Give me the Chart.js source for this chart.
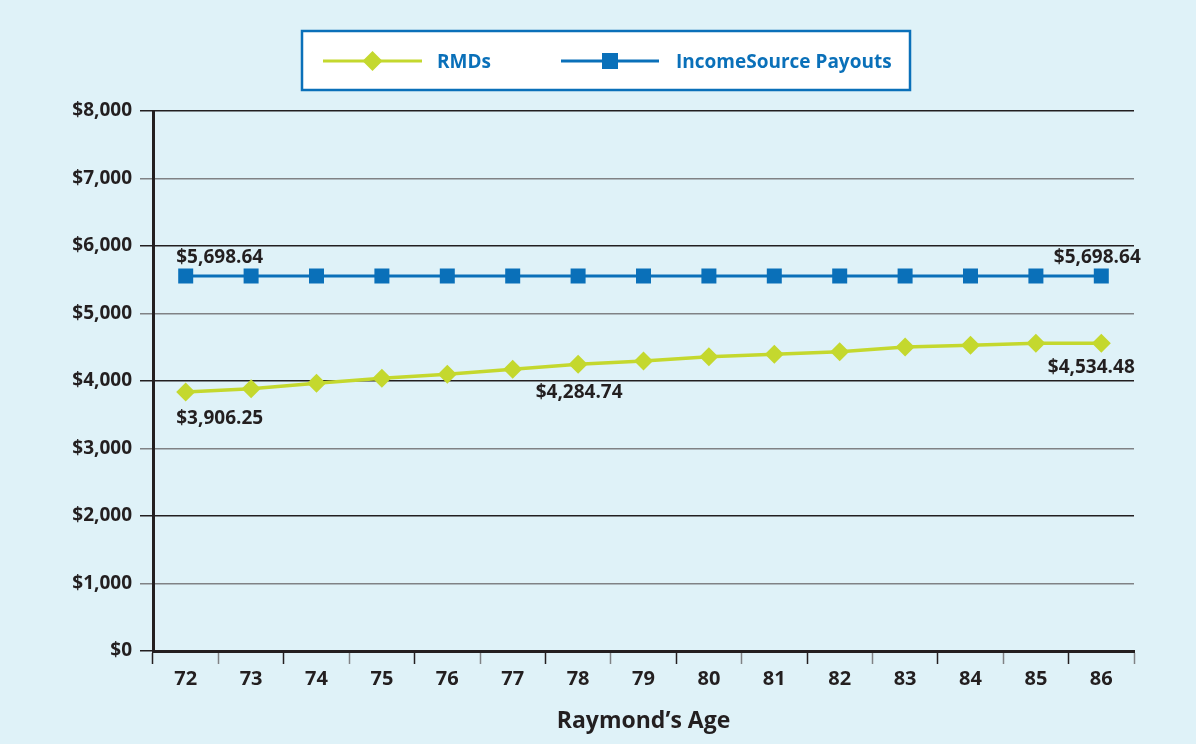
<!DOCTYPE html>
<html>
<head>
<meta charset="utf-8">
<title>RMDs vs IncomeSource Payouts</title>
<script src="https://cdn.jsdelivr.net/npm/chart.js@4.4.1/dist/chart.umd.min.js"></script>
<style>
  html, body { margin: 0; padding: 0; background: #dff2f8; }
  #wrap { width: 1196px; height: 744px; }
</style>
</head>
<body>
<div id="wrap"><canvas id="chart" width="1196" height="744"></canvas></div>
<script>
// ages on the x axis
const ages = ['72', '73', '74', '75', '76', '77', '78', '79', '80', '81', '82', '83', '84', '85', '86'];

// values as plotted in the picture
const rmdValues = [3837, 3886, 3966, 4040, 4099, 4173, 4247, 4296, 4360, 4395, 4434, 4504, 4529, 4558, 4558];
const payoutValues = [5556, 5556, 5556, 5556, 5556, 5556, 5556, 5556, 5556, 5556, 5556, 5556, 5556, 5556, 5556];

// printed value labels (null = no label)
const rmdLabels = ['$3,906.25', null, null, null, null, null, '$4,284.74', null, null, null, null, null, null, null, '$4,534.48'];
const payoutLabels = ['$5,698.64', null, null, null, null, null, null, null, null, null, null, null, null, null, '$5,698.64'];

const yTicks = [0, 1000, 2000, 3000, 4000, 5000, 6000, 7000, 8000];

const DARK = '#231f20';
const GRAY = '#808285';
const GREEN = '#c4d82e';
const BLUE = '#0a70b9';
const FONT = "'Open Sans', 'Noto Sans', sans-serif";

// draws the boxed legend at the top
const boxLegend = {
    id: 'boxLegend',
    afterDraw(chart) {
        const ctx = chart.ctx;
        ctx.save();
        ctx.fillStyle = '#ffffff';
        ctx.fillRect(302, 31, 608, 59);
        ctx.strokeStyle = BLUE;
        ctx.lineWidth = 2.5;
        ctx.strokeRect(302, 31, 608, 59);

        const items = [
            { ds: chart.data.datasets[0], x1: 323, x2: 422, tx: 437 },
            { ds: chart.data.datasets[1], x1: 561, x2: 659, tx: 676 }
        ];
        const y = 61;
        items.forEach(it => {
            ctx.strokeStyle = it.ds.borderColor;
            ctx.lineWidth = 3;
            ctx.beginPath();
            ctx.moveTo(it.x1, y);
            ctx.lineTo(it.x2, y);
            ctx.stroke();
            const cx = (it.x1 + it.x2) / 2;
            ctx.fillStyle = it.ds.pointBackgroundColor;
            ctx.beginPath();
            if (it.ds.pointStyle === 'rectRot') {
                ctx.moveTo(cx, y - 10);
                ctx.lineTo(cx + 10, y);
                ctx.lineTo(cx, y + 10);
                ctx.lineTo(cx - 10, y);
                ctx.closePath();
            } else {
                ctx.rect(cx - 8, y - 8, 16, 16);
            }
            ctx.fill();
            ctx.fillStyle = BLUE;
            ctx.font = 'bold 19px ' + FONT;
            ctx.textAlign = 'left';
            ctx.textBaseline = 'alphabetic';
            ctx.fillText(it.ds.label, it.tx, y + 7);
        });
        ctx.restore();
    }
};

// value labels next to some points
const valueLabels = {
    id: 'valueLabels',
    afterDatasetsDraw(chart, args, opts) {
        const ctx = chart.ctx;
        ctx.save();
        ctx.font = 'bold 19px ' + FONT;
        ctx.fillStyle = DARK;
        ctx.textAlign = 'center';
        ctx.textBaseline = 'alphabetic';
        chart.data.datasets.forEach((ds, di) => {
            const meta = chart.getDatasetMeta(di);
            const offs = opts.offsets[di];
            ds.valueLabels.forEach((txt, i) => {
                if (!txt) return;
                const pt = meta.data[i];
                const o = offs[i] || offs.def;
                ctx.fillText(txt, pt.x + o[0], pt.y + o[1]);
            });
        });
        ctx.restore();
    }
};

const chart = new Chart(document.getElementById('chart'), {
    type: 'line',
    data: {
        labels: ages,
        datasets: [{
            label: 'RMDs',
            data: rmdValues,
            valueLabels: rmdLabels,
            borderColor: GREEN,
            backgroundColor: GREEN,
            pointBackgroundColor: GREEN,
            pointBorderWidth: 0,
            borderWidth: 3.5,
            pointStyle: 'rectRot',
            pointRadius: 9.5,
            pointHoverRadius: 9.5,
            tension: 0
        }, {
            label: 'IncomeSource Payouts',
            data: payoutValues,
            valueLabels: payoutLabels,
            borderColor: BLUE,
            backgroundColor: BLUE,
            pointBackgroundColor: BLUE,
            pointBorderWidth: 0,
            borderWidth: 3,
            pointStyle: 'rect',
            pointRadius: 10.6,
            pointHoverRadius: 10.6,
            tension: 0
        }]
    },
    options: {
        responsive: false,
        devicePixelRatio: 1,
        animation: false,
        layout: { padding: { top: 111, right: 62, bottom: 0, left: 0 } },
        plugins: {
            legend: { display: false },
            tooltip: { enabled: false },
            valueLabels: {
                offsets: [
                    { def: [0, 34], 0: [34, 32], 6: [1, 34], 14: [-10, 30] },
                    { def: [0, -13], 0: [34, -13], 14: [-4, -13] }
                ]
            }
        },
        scales: {
            x: {
                offset: true,
                grid: {
                    offset: true,
                    drawOnChartArea: false,
                    drawTicks: true,
                    tickLength: 13,
                    tickWidth: 1.5,
                    tickColor: c => (c.index % 2 === 0 ? DARK : GRAY)
                },
                border: { display: true, color: DARK, width: 3 },
                ticks: {
                    color: DARK,
                    padding: 3,
                    font: { family: FONT, size: 20, weight: 'bold' }
                },
                title: {
                    display: true,
                    text: 'Raymond’s Age',
                    color: DARK,
                    font: { family: FONT, size: 23, weight: 'bold' },
                    padding: { top: 10, bottom: 9 }
                },
                afterFit: s => { s.height = 93; }
            },
            y: {
                min: 0,
                max: 8000,
                afterBuildTicks: s => { s.ticks = yTicks.map(v => ({ value: v })); },
                grid: {
                    drawTicks: true,
                    tickLength: 13,
                    lineWidth: 1.5,
                    color: c => (c.index % 2 === 0 ? DARK : GRAY)
                },
                border: { display: true, color: DARK, width: 3 },
                ticks: {
                    color: DARK,
                    padding: 8,
                    font: { family: FONT, size: 19, weight: 'bold' },
                    callback: v => '$' + v.toLocaleString('en-US')
                },
                afterFit: s => { s.width = 153; }
            }
        }
    },
    plugins: [boxLegend, valueLabels]
});
</script>
</body>
</html>
